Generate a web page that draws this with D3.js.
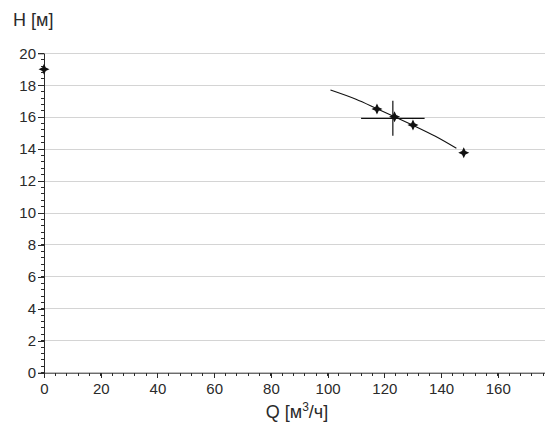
<!DOCTYPE html>
<html><head><meta charset="utf-8">
<script src="https://cdn.jsdelivr.net/npm/d3@7"></script>
<style>body{margin:0;background:#fff;}svg{display:block;font-family:Arial,"Liberation Sans",sans-serif;}</style>
</head><body>
<svg id="c" width="545" height="422"></svg>
<script>
// Data
const xTicks = [0,20,40,60,80,100,120,140,160];
const yTicks = [0,2,4,6,8,10,12,14,16,18,20];
const curveQ = [101,110,117.4,123.6,130,138,145.4];
const curveH = [17.7,17.12,16.53,16.03,15.5,14.8,14.05];
const pointQ = [0,117.4,123.6,130.1,148.0];
const pointH = [19.0,16.51,16.03,15.51,13.78];
const dutyQ = 123.0, dutyH = 15.93, dutyQTol = 11.2, dutyHTol = 1.1;
const xLabel = "Q [м³/ч]", yLabel = "H [м]";

const svg = d3.select("#c");
const x = d3.scaleLinear().domain([0,177]).range([44, 546]);
const y = d3.scaleLinear().domain([0,20]).range([372.7, 53.3]);
const ink = "#2a2a2a";
const font = "Arial,'Liberation Sans',sans-serif";

// gridlines
svg.append("g").selectAll("line").data(yTicks.filter(d=>d>0)).join("line")
  .attr("x1", x(0)).attr("x2", 545).attr("y1", d=>y(d)).attr("y2", d=>y(d))
  .attr("stroke", "#d4d4d4").attr("stroke-width", 1).attr("shape-rendering","crispEdges");

// y axis
const yMinor = d3.range(0, 20.001, 0.4);
const gy = svg.append("g").attr("transform", `translate(${x(0)},0)`);
gy.selectAll("line.mi").data(yMinor).join("line").attr("class","mi")
  .attr("x1",-3).attr("x2",0).attr("y1",d=>y(d)).attr("y2",d=>y(d)).attr("stroke",ink).attr("shape-rendering","crispEdges");
gy.call(d3.axisLeft(y).tickValues(yTicks).tickSize(6).tickPadding(2));
gy.select(".domain").attr("stroke",ink);
gy.selectAll(".tick line").attr("stroke",ink).attr("shape-rendering","crispEdges");
gy.selectAll(".tick text").attr("font-size","15px").attr("fill",ink).attr("font-family",font);

// x axis
const xMinor = d3.range(0, 177, 4);
const gx = svg.append("g").attr("transform", `translate(0,${y(0)})`);
gx.selectAll("line.mi").data(xMinor).join("line").attr("class","mi")
  .attr("x1",d=>x(d)).attr("x2",d=>x(d)).attr("y1",0).attr("y2",3).attr("stroke",ink).attr("shape-rendering","crispEdges");
gx.call(d3.axisBottom(x).tickValues(xTicks).tickSize(5).tickPadding(6).tickSizeOuter(0));
gx.select(".domain").attr("stroke",ink);
gx.selectAll(".tick line").attr("stroke",ink).attr("shape-rendering","crispEdges");
gx.selectAll(".tick text").attr("font-size","15px").attr("fill",ink).attr("font-family",font);

// curve
const line = d3.line().x(d=>x(d[0])).y(d=>y(d[1])).curve(d3.curveMonotoneX);
svg.append("path").datum(d3.zip(curveQ, curveH)).attr("d", line)
  .attr("fill","none").attr("stroke","#111").attr("stroke-width",1.1);

// duty point crosshair
svg.append("line").attr("x1",x(dutyQ-dutyQTol)).attr("x2",x(dutyQ+dutyQTol)).attr("y1",y(dutyH)).attr("y2",y(dutyH))
  .attr("stroke","#111").attr("stroke-width",1.2);
svg.append("line").attr("x1",x(dutyQ)).attr("x2",x(dutyQ)).attr("y1",y(dutyH-dutyHTol)).attr("y2",y(dutyH+dutyHTol))
  .attr("stroke","#111").attr("stroke-width",1.2);

// 4-point star markers
const star4 = {draw(ctx, size){ const R=Math.sqrt(size)/2, r=R*0.45;
  for(let i=0;i<8;i++){ const a=i*Math.PI/4 - Math.PI/2; const rr = i%2? r : R;
    const px=rr*Math.cos(a), py=rr*Math.sin(a); if(i===0) ctx.moveTo(px,py); else ctx.lineTo(px,py);} ctx.closePath(); }};
svg.append("g").selectAll("path").data(d3.zip(pointQ, pointH)).join("path")
  .attr("transform", d=>`translate(${x(d[0])},${y(d[1])})`)
  .attr("d", d3.symbol().type(star4).size(121)).attr("fill","#111");

// labels
svg.append("text").attr("x",13).attr("y",25.5).attr("font-size","18px").attr("fill",ink).attr("font-family",font).text(yLabel);
const ql = svg.append("text").attr("x",297).attr("y",418).attr("text-anchor","middle").attr("font-size","18px").attr("fill",ink).attr("font-family",font);
ql.append("tspan").text("Q [м");
ql.append("tspan").attr("dy",-7).attr("font-size","12px").text("3");
ql.append("tspan").attr("dy",7).text("/ч]");
</script>
</body></html>
